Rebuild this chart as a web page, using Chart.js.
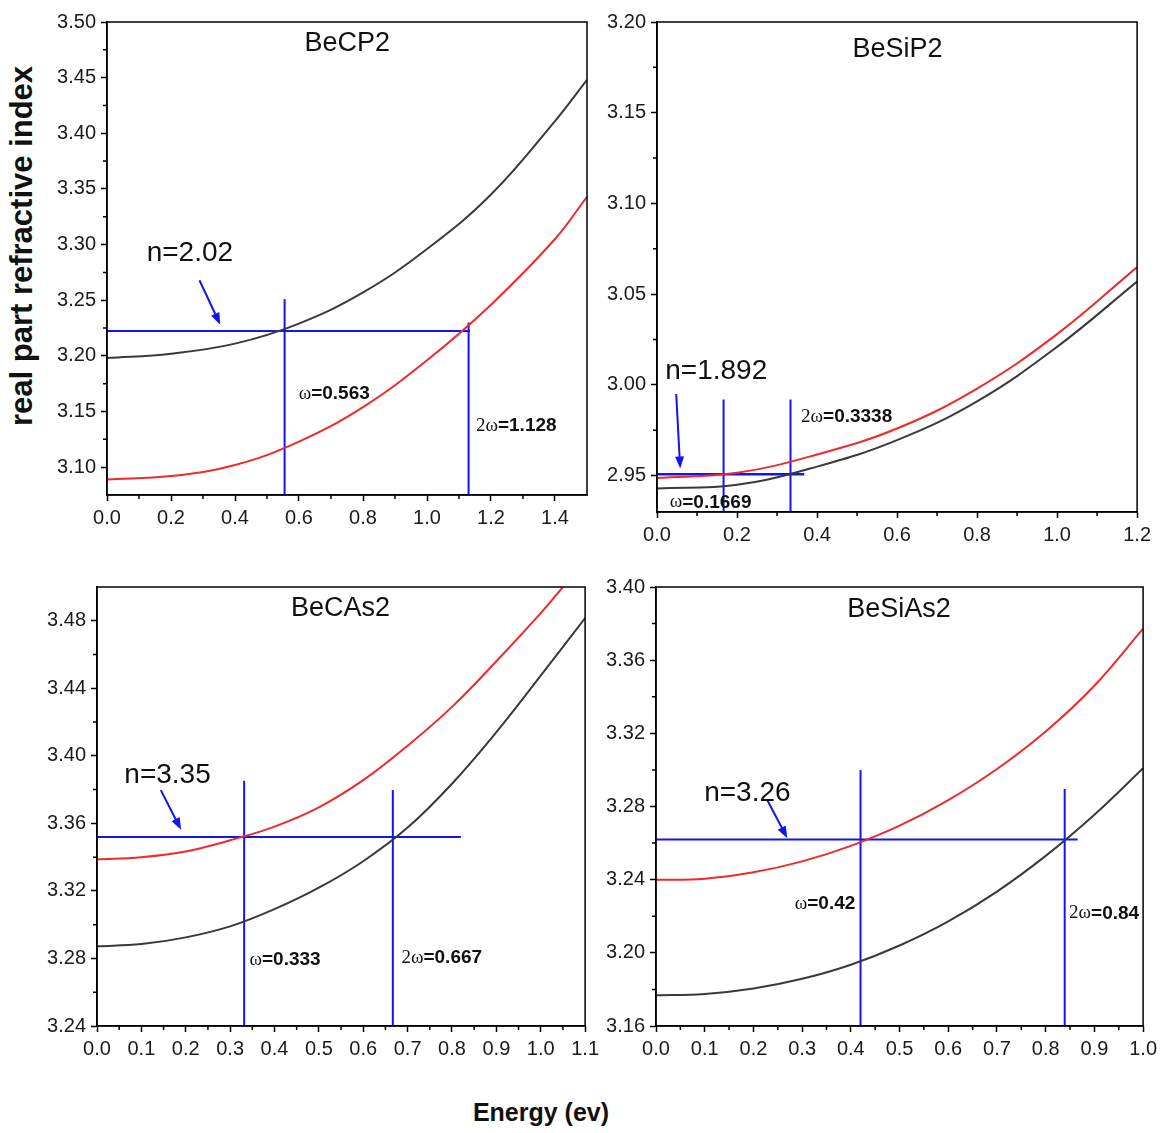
<!DOCTYPE html>
<html>
<head>
<meta charset="utf-8">
<title>Real part refractive index</title>
<script src="https://cdn.jsdelivr.net/npm/chart.js@4.4.1/dist/chart.umd.min.js"></script>
<style>
  html, body { margin: 0; padding: 0; background: #fff; }
  body { position: relative; width: 1171px; height: 1133px; overflow: hidden; font-family: 'Liberation Sans', Arial, sans-serif; }
  canvas { position: absolute; }
  .axis-title { position: absolute; font-weight: bold; color: #111; white-space: nowrap; }
  #yTitle { left: 22px; top: 246px; font-size: 31px; transform: translate(-50%, -50%) rotate(-90deg); }
  #xTitle { left: 541px; top: 1112px; font-size: 25px; transform: translate(-50%, -50%); }
</style>
</head>
<body>
<canvas id="c1"></canvas>
<canvas id="c2"></canvas>
<canvas id="c3"></canvas>
<canvas id="c4"></canvas>
<div class="axis-title" id="yTitle">real part refractive index</div>
<div class="axis-title" id="xTitle">Energy (ev)</div>
<script>
/**
 * BeCP2 data (top left).
 */
const becp2Energy = [0, 0.2, 0.4, 0.6, 0.8, 1.0, 1.2, 1.4, 1.5];
const becp2Black = [3.198, 3.202, 3.211, 3.229, 3.257, 3.296, 3.345, 3.411, 3.448];
const becp2Red = [3.089, 3.092, 3.102, 3.123, 3.154, 3.196, 3.246, 3.305, 3.343];
const becp2XTicks = [0, 0.2, 0.4, 0.6, 0.8, 1.0, 1.2, 1.4];
const becp2YTicks = [3.10, 3.15, 3.20, 3.25, 3.30, 3.35, 3.40, 3.45, 3.50];

/**
 * BeSiP2 data (top right).
 */
const besip2Energy = [0, 0.2, 0.4, 0.6, 0.8, 1.0, 1.2];
const besip2Black = [2.943, 2.945, 2.955, 2.9696, 2.991, 3.021, 3.057];
const besip2Red = [2.9488, 2.9516, 2.9617, 2.976, 2.998, 3.028, 3.065];
const besip2XTicks = [0, 0.2, 0.4, 0.6, 0.8, 1.0, 1.2];
const besip2YTicks = [2.95, 3.00, 3.05, 3.10, 3.15, 3.20];

/**
 * BeCAs2 data (bottom left).
 */
const becas2Energy = [0, 0.1, 0.2, 0.3, 0.4, 0.5, 0.6, 0.7, 0.8, 0.9, 1.0, 1.1];
const becas2Black = [3.2872, 3.2885, 3.2925, 3.299, 3.3092, 3.3219, 3.3376, 3.3575, 3.3835, 3.414, 3.4475, 3.4816];
const becas2RedEnergy = [0, 0.1, 0.2, 0.3, 0.4, 0.5, 0.6, 0.7, 0.8, 0.9, 1.0, 1.05];
const becas2Red = [3.3386, 3.340, 3.3434, 3.350, 3.3581, 3.3695, 3.3856, 3.406, 3.429, 3.456, 3.4845, 3.500];
const becas2XTicks = [0, 0.1, 0.2, 0.3, 0.4, 0.5, 0.6, 0.7, 0.8, 0.9, 1.0, 1.1];
const becas2YTicks = [3.24, 3.28, 3.32, 3.36, 3.40, 3.44, 3.48];

/**
 * BeSiAs2 data (bottom right).
 */
const besias2Energy = [0, 0.1, 0.2, 0.3, 0.4, 0.5, 0.6, 0.7, 0.8, 0.9, 1.0];
const besias2Black = [3.1768, 3.1775, 3.1805, 3.1858, 3.1935, 3.2040, 3.2172, 3.2335, 3.2530, 3.2755, 3.3009];
const besias2Red = [3.2399, 3.2405, 3.2440, 3.2500, 3.2585, 3.2695, 3.2835, 3.3005, 3.3210, 3.3460, 3.3772];
const besias2XTicks = [0, 0.1, 0.2, 0.3, 0.4, 0.5, 0.6, 0.7, 0.8, 0.9, 1.0];
const besias2YTicks = [3.16, 3.20, 3.24, 3.28, 3.32, 3.36, 3.40];

/**
 * Styles.
 */
const SANS = '"Liberation Sans", Arial, sans-serif';
const SERIF = '"Liberation Serif", "Times New Roman", serif';
const BLACK = '#3a3a3a';
const RED = '#f02a2a';
const BLUE = '#1414f0';
const Y_W = 62;
const X_H = 44;
const PAD_T = 14;
const PAD_R = 18;

const toPoints = (xs, ys) => xs.map((x, i) => ({ x, y: ys[i] }));
const midpoints = (arr) => arr.slice(1).map((v, i) => (v + arr[i]) / 2);

function omegaLabel(prefix, value) {
  return [
    { text: prefix, font: `19px ${SERIF}` },
    { text: value, font: `bold 19px ${SANS}` },
  ];
}

/**
 * Draws the frame, minor ticks, arrow and texts of a panel.
 */
const panelDecor = {
  id: 'panelDecor',
  afterDatasetsDraw(chart, args, opts) {
    const { ctx, chartArea: a } = chart;
    const sx = chart.scales.x;
    const sy = chart.scales.y;
    const px = (v) => sx.getPixelForValue(v);
    const py = (v) => sy.getPixelForValue(v);
    ctx.save();

    ctx.strokeStyle = '#000';
    ctx.lineWidth = 1.5;
    ctx.strokeRect(a.left, a.top, a.right - a.left, a.bottom - a.top);

    ctx.beginPath();
    midpoints(opts.xTicks).forEach((v) => {
      ctx.moveTo(px(v), a.bottom);
      ctx.lineTo(px(v), a.bottom + 4);
    });
    midpoints(opts.yTicks).forEach((v) => {
      ctx.moveTo(a.left, py(v));
      ctx.lineTo(a.left - 4, py(v));
    });
    ctx.stroke();

    /**
     * Arrow pointing at the horizontal line.
     */
    const [x0, y0] = [px(opts.arrow[0]), py(opts.arrow[1])];
    const [x1, y1] = [px(opts.arrow[2]), py(opts.arrow[3])];
    const ang = Math.atan2(y1 - y0, x1 - x0);
    ctx.strokeStyle = BLUE;
    ctx.fillStyle = BLUE;
    ctx.lineWidth = 2;
    ctx.beginPath();
    ctx.moveTo(x0, y0);
    ctx.lineTo(x1 - 8 * Math.cos(ang), y1 - 8 * Math.sin(ang));
    ctx.stroke();
    ctx.beginPath();
    ctx.moveTo(x1, y1);
    ctx.lineTo(x1 - 12 * Math.cos(ang) + 4.5 * Math.sin(ang), y1 - 12 * Math.sin(ang) - 4.5 * Math.cos(ang));
    ctx.lineTo(x1 - 12 * Math.cos(ang) - 4.5 * Math.sin(ang), y1 - 12 * Math.sin(ang) + 4.5 * Math.cos(ang));
    ctx.closePath();
    ctx.fill();

    /**
     * Texts, each centred on its data position.
     */
    ctx.fillStyle = '#111';
    ctx.textBaseline = 'middle';
    ctx.textAlign = 'left';
    opts.texts.forEach((t) => {
      let total = 0;
      t.parts.forEach((p) => {
        ctx.font = p.font;
        p.w = ctx.measureText(p.text).width;
        total += p.w;
      });
      let left = px(t.x) - total / 2;
      t.parts.forEach((p) => {
        ctx.font = p.font;
        ctx.fillText(p.text, left, py(t.y));
        left += p.w;
      });
    });
    ctx.restore();
  },
};

function axisOptions(pos, min, max, ticks, decimals) {
  return {
    type: 'linear',
    position: pos,
    min,
    max,
    afterBuildTicks: (s) => { s.ticks = ticks.map((v) => ({ value: v })); },
    afterFit: (s) => {
      if (pos === 'bottom') s.height = X_H;
      else s.width = Y_W;
    },
    grid: { drawOnChartArea: false, drawTicks: true, tickLength: 6, tickColor: '#000', tickWidth: 1.5 },
    border: { display: true, color: '#000', width: 1.5 },
    ticks: {
      autoSkip: false,
      maxRotation: 0,
      padding: 5,
      color: '#1a1a1a',
      font: { family: SANS, size: 20 },
      callback: (v) => Number(v).toFixed(decimals),
    },
  };
}

function line(points, color, width) {
  return {
    data: points,
    showLine: true,
    borderColor: color,
    borderWidth: width,
    pointRadius: 0,
    tension: 0.4,
  };
}

/**
 * Build one panel from its config.
 */
function buildPanel(cfg) {
  const [L, T, R, B] = cfg.plot;
  const canvas = document.getElementById(cfg.id);
  const left = L - Y_W;
  const top = T - PAD_T;
  canvas.width = R + PAD_R - left;
  canvas.height = B + X_H - top;
  canvas.style.left = `${left}px`;
  canvas.style.top = `${top}px`;

  const blue = [
    line([{ x: cfg.xRange[0], y: cfg.hLine[0] }, { x: cfg.hLine[1], y: cfg.hLine[0] }], BLUE, cfg.hWidth || 2),
    ...cfg.vLines.map((v) => line([{ x: v[0], y: cfg.yRange[0] }, { x: v[0], y: v[1] }], BLUE, 2)),
  ];

  return new Chart(canvas, {
    type: 'scatter',
    data: {
      datasets: [
        line(cfg.black, BLACK, 2),
        line(cfg.red, RED, 2),
        ...blue,
      ],
    },
    options: {
      responsive: false,
      animation: false,
      devicePixelRatio: 1,
      layout: { autoPadding: false, padding: { left: 0, top: PAD_T, right: PAD_R, bottom: 0 } },
      plugins: {
        legend: { display: false },
        tooltip: { enabled: false },
        panelDecor: {
          xTicks: cfg.xTicks,
          yTicks: cfg.yTicks,
          arrow: cfg.arrow,
          texts: cfg.texts,
        },
      },
      scales: {
        x: axisOptions('bottom', cfg.xRange[0], cfg.xRange[1], cfg.xTicks, 1),
        y: axisOptions('left', cfg.yRange[0], cfg.yRange[1], cfg.yTicks, 2),
      },
    },
    plugins: [panelDecor],
  });
}

const panels = [
  {
    id: 'c1',
    plot: [107, 19, 587, 495],
    xRange: [0, 1.5],
    yRange: [3.075, 3.50],
    xTicks: becp2XTicks,
    yTicks: becp2YTicks,
    black: toPoints(becp2Energy, becp2Black),
    red: toPoints(becp2Energy, becp2Red),
    hLine: [3.2223, 1.134],
    vLines: [[0.555, 3.251], [1.130, 3.230]],
    arrow: [0.289, 3.268, 0.354, 3.228],
    texts: [
      { x: 0.751, y: 3.481, parts: [{ text: 'BeCP2', font: `27px ${SANS}` }] },
      { x: 0.259, y: 3.292, parts: [{ text: 'n=2.02', font: `28px ${SANS}` }] },
      { x: 0.71, y: 3.166, parts: omegaLabel('ω', '=0.563') },
      { x: 1.279, y: 3.137, parts: omegaLabel('2ω', '=1.128') },
    ],
  },
  {
    id: 'c2',
    plot: [657, 19, 1138, 512],
    xRange: [0, 1.2],
    yRange: [2.93, 3.20],
    xTicks: besip2XTicks,
    yTicks: besip2YTicks,
    black: toPoints(besip2Energy, besip2Black),
    red: toPoints(besip2Energy, besip2Red),
    hLine: [2.9508, 0.368],
    hWidth: 2.5,
    vLines: [[0.1664, 2.992], [0.3337, 2.992]],
    arrow: [0.048, 2.995, 0.058, 2.954],
    texts: [
      { x: 0.601, y: 3.1847, parts: [{ text: 'BeSiP2', font: `27px ${SANS}` }] },
      { x: 0.148, y: 3.0077, parts: [{ text: 'n=1.892', font: `28px ${SANS}` }] },
      { x: 0.134, y: 2.9353, parts: omegaLabel('ω', '=0.1669') },
      { x: 0.474, y: 2.9823, parts: omegaLabel('2ω', '=0.3338') },
    ],
  },
  {
    id: 'c3',
    plot: [97, 584, 586, 1026],
    xRange: [0, 1.1],
    yRange: [3.24, 3.50],
    xTicks: becas2XTicks,
    yTicks: becas2YTicks,
    black: toPoints(becas2Energy, becas2Black),
    red: toPoints(becas2RedEnergy, becas2Red),
    hLine: [3.3519, 0.82],
    vLines: [[0.3316, 3.3852], [0.6667, 3.3797]],
    arrow: [0.1438, 3.3797, 0.1895, 3.3562],
    texts: [
      { x: 0.5487, y: 3.4874, parts: [{ text: 'BeCAs2', font: `27px ${SANS}` }] },
      { x: 0.159, y: 3.3886, parts: [{ text: 'n=3.35', font: `28px ${SANS}` }] },
      { x: 0.4238, y: 3.2793, parts: omegaLabel('ω', '=0.333') },
      { x: 0.777, y: 3.2803, parts: omegaLabel('2ω', '=0.667') },
    ],
  },
  {
    id: 'c4',
    plot: [656, 584, 1144, 1026],
    xRange: [0, 1.0],
    yRange: [3.16, 3.40],
    xTicks: besias2XTicks,
    yTicks: besias2YTicks,
    black: toPoints(besias2Energy, besias2Black),
    red: toPoints(besias2Energy, besias2Red),
    hLine: [3.2619, 0.8656],
    vLines: [[0.4199, 3.2999], [0.839, 3.2896]],
    arrow: [0.2278, 3.2838, 0.2696, 3.2627],
    texts: [
      { x: 0.499, y: 3.3877, parts: [{ text: 'BeSiAs2', font: `27px ${SANS}` }] },
      { x: 0.1876, y: 3.2874, parts: [{ text: 'n=3.26', font: `28px ${SANS}` }] },
      { x: 0.347, y: 3.2268, parts: omegaLabel('ω', '=0.42') },
      { x: 0.92, y: 3.2216, parts: omegaLabel('2ω', '=0.84') },
    ],
  },
];

panels.forEach((cfg) => buildPanel(cfg));
</script>
</body>
</html>
